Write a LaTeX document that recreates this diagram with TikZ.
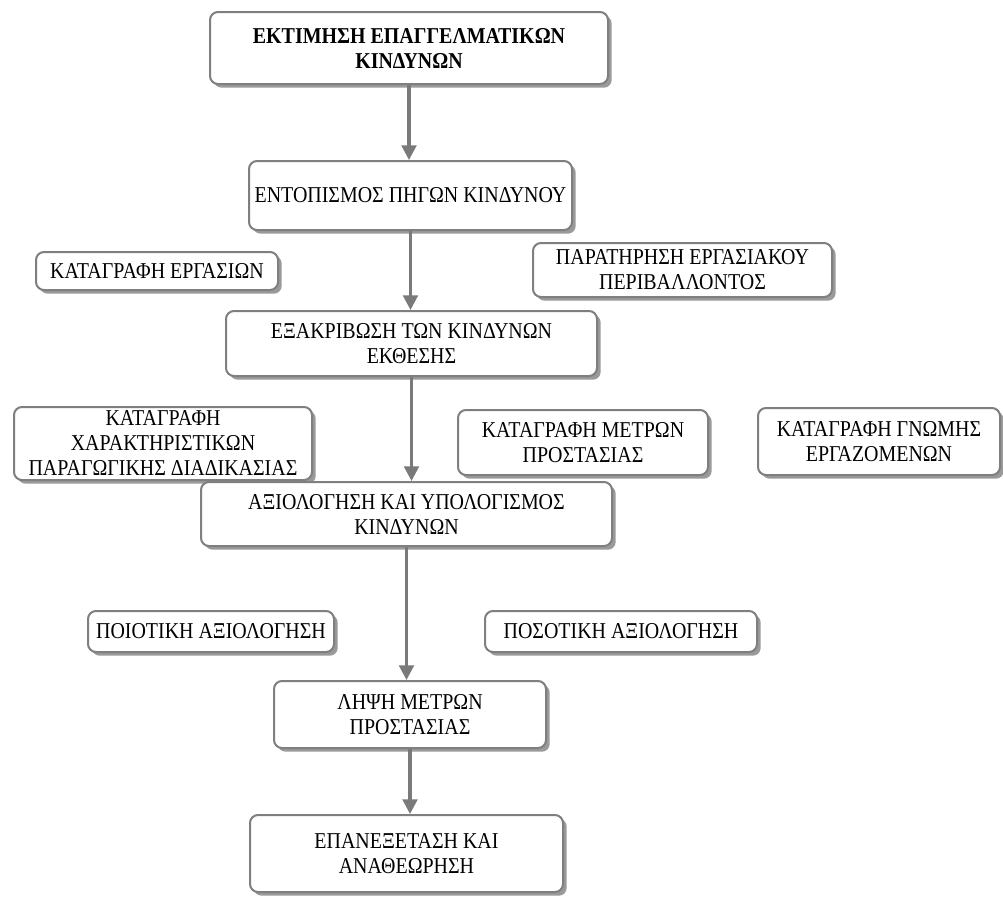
\documentclass[tikz,border=0pt]{standalone}
\usepackage{fontspec}
\setmainfont{Liberation Serif}[FakeStretch=0.88]
\usetikzlibrary{arrows.meta,shadows}
\definecolor{boxgray}{HTML}{7F7F7F}
\definecolor{shadowgray}{HTML}{9A9A9A}
\definecolor{arrowgray}{HTML}{7A7A7A}

\begin{document}
\begin{tikzpicture}[x=0.75pt,y=-0.75pt,
  box/.style={draw=boxgray, line width=1.5pt, rounded corners=6pt, fill=white,
    align=center, inner sep=0pt, font=\fontsize{17}{18.75}\selectfont,
    drop shadow={shadow xshift=2.8pt, shadow yshift=-2.8pt, fill=shadowgray, opacity=1}},
  flow/.style={draw=arrowgray, line width=2.3pt, -{Triangle[width=11pt,length=11pt]}}]
\useasboundingbox (0,0) rectangle (1003,897);
\node[box, minimum width=298.5pt, minimum height=54pt] (b1) at (409,48)
  {\bfseries ΕΚΤΙΜΗΣΗ ΕΠΑΓΓΕΛΜΑΤΙΚΩΝ\\\bfseries ΚΙΝΔΥΝΩΝ};
\node[box, minimum width=242.25pt, minimum height=51.75pt] (b2) at (410.5,195.5)
  {ΕΝΤΟΠΙΣΜΟΣ ΠΗΓΩΝ ΚΙΝΔΥΝΟΥ};
\node[box, minimum width=181.5pt, minimum height=28.5pt] (b3) at (157,271)
  {ΚΑΤΑΓΡΑΦΗ ΕΡΓΑΣΙΩΝ};
\node[box, minimum width=224.25pt, minimum height=40.5pt] (b4) at (682.5,270)
  {ΠΑΡΑΤΗΡΗΣΗ ΕΡΓΑΣΙΑΚΟΥ\\ΠΕΡΙΒΑΛΛΟΝΤΟΣ};
\node[box, minimum width=278.25pt, minimum height=48.75pt] (b5) at (411.5,343.5)
  {ΕΞΑΚΡΙΒΩΣΗ ΤΩΝ ΚΙΝΔΥΝΩΝ\\ΕΚΘΕΣΗΣ};
\node[box, minimum width=223.5pt, minimum height=54.75pt] (b6) at (163,443.5)
  {ΚΑΤΑΓΡΑΦΗ\\ΧΑΡΑΚΤΗΡΙΣΤΙΚΩΝ\\ΠΑΡΑΓΩΓΙΚΗΣ ΔΙΑΔΙΚΑΣΙΑΣ};
\node[box, minimum width=187.5pt, minimum height=48.75pt] (b7) at (583,442.5)
  {ΚΑΤΑΓΡΑΦΗ ΜΕΤΡΩΝ\\ΠΡΟΣΤΑΣΙΑΣ};
\node[box, minimum width=181.5pt, minimum height=50.25pt] (b8) at (879,441.5)
  {ΚΑΤΑΓΡΑΦΗ ΓΝΩΜΗΣ\\ΕΡΓΑΖΟΜΕΝΩΝ};
\node[box, minimum width=308.25pt, minimum height=48pt] (b9) at (406.5,514)
  {ΑΞΙΟΛΟΓΗΣΗ ΚΑΙ ΥΠΟΛΟΓΙΣΜΟΣ\\ΚΙΝΔΥΝΩΝ};
\node[box, minimum width=184.5pt, minimum height=30.75pt] (b10) at (211,631.5)
  {ΠΟΙΟΤΙΚΗ ΑΞΙΟΛΟΓΗΣΗ};
\node[box, minimum width=204pt, minimum height=30.75pt] (b11) at (621,631.5)
  {ΠΟΣΟΤΙΚΗ ΑΞΙΟΛΟΓΗΣΗ};
\node[box, minimum width=204pt, minimum height=50.25pt] (b12) at (410,714.5)
  {ΛΗΨΗ ΜΕΤΡΩΝ\\ΠΡΟΣΤΑΣΙΑΣ};
\node[box, minimum width=234.75pt, minimum height=57.75pt] (b13) at (406.5,853.5)
  {ΕΠΑΝΕΞΕΤΑΣΗ ΚΑΙ\\ΑΝΑΘΕΩΡΗΣΗ};
\draw[flow] (b1.south) -- (b1.south |- b2.north);
\draw[flow] (b2.south) -- (b2.south |- b5.north);
\draw[flow] (b5.south) -- (b5.south |- b9.north);
\draw[flow] (b9.south) -- (b9.south |- b12.north);
\draw[flow] (b12.south) -- (b12.south |- b13.north);
\end{tikzpicture}
\end{document}
